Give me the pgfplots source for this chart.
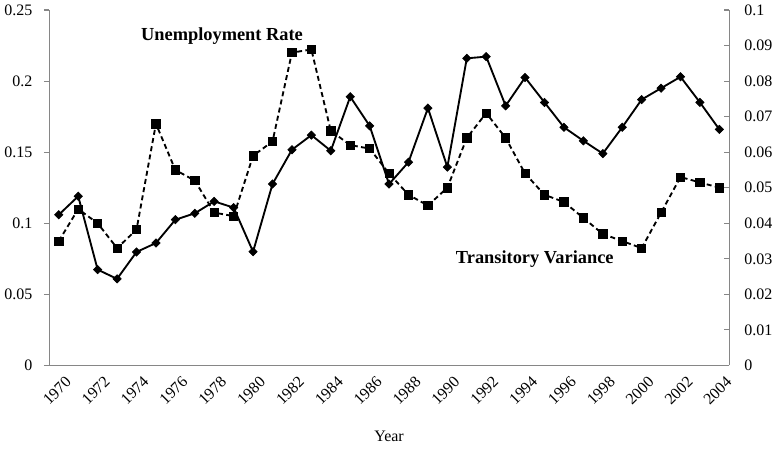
\documentclass[border=0pt]{standalone}
\usepackage{pgfplots}
\pgfplotsset{compat=1.18}
\usepackage{fontspec}
\setmainfont{Liberation Serif}
\definecolor{axisgray}{RGB}{134,134,134}

% transitory variance (left axis)
\pgfplotstableread{
year val
1970 0.106
1971 0.119
1972 0.0674
1973 0.0609
1974 0.0798
1975 0.0861
1976 0.1025
1977 0.107
1978 0.1154
1979 0.111
1980 0.080
1981 0.1276
1982 0.1517
1983 0.162
1984 0.151
1985 0.189
1986 0.1685
1987 0.1276
1988 0.143
1989 0.181
1990 0.1395
1991 0.216
1992 0.2172
1993 0.1826
1994 0.2025
1995 0.185
1996 0.1675
1997 0.158
1998 0.149
1999 0.1675
2000 0.187
2001 0.195
2002 0.203
2003 0.185
2004 0.166
}\transvar

% unemployment rate (right axis)
\pgfplotstableread{
year val
1970 0.035
1971 0.044
1972 0.040
1973 0.033
1974 0.0382
1975 0.068
1976 0.055
1977 0.052
1978 0.043
1979 0.042
1980 0.059
1981 0.063
1982 0.088
1983 0.0889
1984 0.066
1985 0.062
1986 0.061
1987 0.054
1988 0.048
1989 0.045
1990 0.050
1991 0.064
1992 0.071
1993 0.064
1994 0.054
1995 0.048
1996 0.046
1997 0.0415
1998 0.037
1999 0.035
2000 0.033
2001 0.043
2002 0.053
2003 0.0515
2004 0.050
}\unemp

\begin{document}
\begin{tikzpicture}
\pgfplotsset{
  every axis/.append style={
    width=510.75pt, height=267pt, scale only axis,
    xmin=1969.5, xmax=2004.5, ymin=0,
    /pgf/number format/assume math mode=true,
    tick label style={font=\fontsize{12}{14}\selectfont},
    axis line style={axisgray, line width=0.8pt},
    tick style={axisgray, line width=0.8pt},
    major tick length=4pt,
    clip=false,
  }
}
\begin{axis}[
    axis y line*=left, axis x line*=bottom,
    tick align=outside,
    ymax=0.25, ytick={0,0.05,0.1,0.15,0.2,0.25},
    yticklabel style={/pgf/number format/fixed, /pgf/number format/precision=2, xshift=-5pt},
    xtick={1970,1972,...,2004},
    xtick style={draw=none},
    minor xtick={1969.5,1970.5,...,2004.5},
    minor tick length=4pt,
    minor tick style={axisgray, line width=0.8pt},
    xticklabel style={rotate=45, anchor=north east, xshift=4pt, yshift=-2pt, /pgf/number format/1000 sep={}},
    xlabel={Year},
    xlabel style={font=\fontsize{12}{14}\selectfont, at={(axis description cs:0.5,0)}, anchor=center, yshift=-53pt},
  ]
  \path (rel axis cs:0,0) ++(-36pt,-63.75pt) rectangle ++(583.5pt,338.25pt);
  \addplot[black, line width=1.4pt, mark=square*, mark size=2.2pt,
    mark options={rotate=45, line width=0.5pt}] table[x=year, y=val] {\transvar};
  \node[font=\bfseries\fontsize{13.8}{16}\selectfont] at (axis cs:1978.4,0.2317) {Unemployment Rate};
  \node[font=\bfseries\fontsize{13.8}{16}\selectfont] at (axis cs:1994.5,0.0745) {Transitory Variance};
\end{axis}
\begin{axis}[
    axis y line*=right, axis x line=none,
    tick align=inside,
    ymax=0.1, ytick={0,0.01,0.02,0.03,0.04,0.05,0.06,0.07,0.08,0.09,0.1},
    yticklabel style={/pgf/number format/fixed, /pgf/number format/precision=2, xshift=8pt},
  ]
  \addplot[black, line width=1.4pt, dash pattern=on 3.75pt off 2.5pt, mark=square*, mark size=3.1pt,
    mark options={solid, line width=0.5pt}] table[x=year, y=val] {\unemp};
\end{axis}
\end{tikzpicture}
\end{document}
